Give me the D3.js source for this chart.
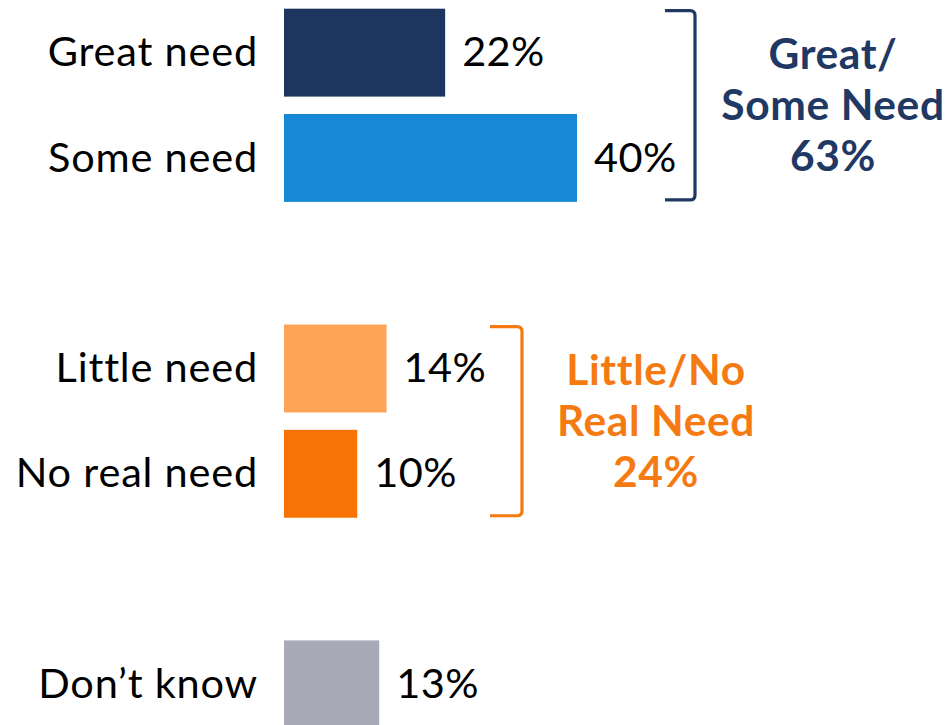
<!DOCTYPE html>
<html>
<head>
<meta charset="utf-8">
<script src="https://cdn.jsdelivr.net/npm/d3@7"></script>
<style>
  html, body { margin: 0; padding: 0; background: #ffffff; }
  svg { display: block; font-family: Lato, "Noto Sans", sans-serif; }
</style>
</head>
<body>
<svg id="chart" width="950" height="725"></svg>
<script>
// ---- data ----
const categories = ["Great need", "Some need", "", "Little need", "No real need", " ", "Don\u2019t know"];
const values = [22, 40, null, 14, 10, null, 13];
const barColors = ["#1d365f", "#1788d6", null, "#fda456", "#f87306", null, "#a9aab7"];
const groupNames = ["Great/ Some Need", "Little/No Real Need"];
const groupLines = [["Great/", "Some Need", "63%"], ["Little/No", "Real Need", "24%"]];
const groupMembers = [["Great need", "Some need"], ["Little need", "No real need"]];
const groupColors = ["#1f3864", "#f57a12"];

const svg = d3.select("#chart");

const y = d3.scaleBand()
  .domain(categories)
  .range([0, 737])
  .paddingInner(0.165)
  .paddingOuter(0.0825);

const x = d3.scaleLinear().domain([0, 40]).range([284, 577]);

const rows = categories.map((c, i) => ({ cat: c, v: values[i], color: barColors[i] }))
  .filter(d => d.v !== null);

const fontSize = 41.5;

// category labels
svg.append("g").selectAll("text").data(rows).join("text")
  .attr("x", 258)
  .attr("y", d => y(d.cat) + y.bandwidth() / 2)
  .attr("dy", "0.33em")
  .attr("text-anchor", "end")
  .attr("font-size", fontSize)
  .attr("letter-spacing", 0.8)
  .attr("fill", "#000")
  .text(d => d.cat.trim());

// bars
svg.append("g").selectAll("rect").data(rows).join("rect")
  .attr("x", x(0))
  .attr("y", d => y(d.cat))
  .attr("width", d => x(d.v) - x(0))
  .attr("height", y.bandwidth())
  .attr("fill", d => d.color);

// value labels
svg.append("g").selectAll("text").data(rows).join("text")
  .attr("x", d => x(d.v) + 17)
  .attr("y", d => y(d.cat) + y.bandwidth() / 2)
  .attr("dy", "0.33em")
  .attr("font-size", fontSize)
  .attr("letter-spacing", 0.4)
  .attr("fill", "#000")
  .text(d => d.v + "%");

// brackets
const bracketX = [[665, 695], [490, 522]];
const textCX = [833, 656];
groupMembers.forEach((mem, gi) => {
  const top = y(mem[0]) + 2;
  const bot = y(mem[mem.length - 1]) + y.bandwidth() - 2;
  const [x0, x1] = bracketX[gi];
  const r = 5;
  const p = d3.path();
  p.moveTo(x0, top);
  p.lineTo(x1 - r, top);
  p.quadraticCurveTo(x1, top, x1, top + r);
  p.lineTo(x1, bot - r);
  p.quadraticCurveTo(x1, bot, x1 - r, bot);
  p.lineTo(x0, bot);
  svg.append("path")
    .attr("d", p.toString())
    .attr("fill", "none")
    .attr("stroke", groupColors[gi])
    .attr("stroke-width", 3.2);

  const mid = (top + bot) / 2;
  const lh = 51;
  const t = svg.append("text")
    .attr("text-anchor", "middle")
    .attr("font-size", 42.5)
    .attr("letter-spacing", 0.6)
    .attr("font-weight", "bold")
    .attr("fill", groupColors[gi]);
  groupLines[gi].forEach((line, li) => {
    t.append("tspan")
      .attr("x", textCX[gi])
      .attr("y", mid + (li - 1) * lh)
      .attr("dy", "0.34em")
      .text(line);
  });
});
</script>
</body>
</html>
